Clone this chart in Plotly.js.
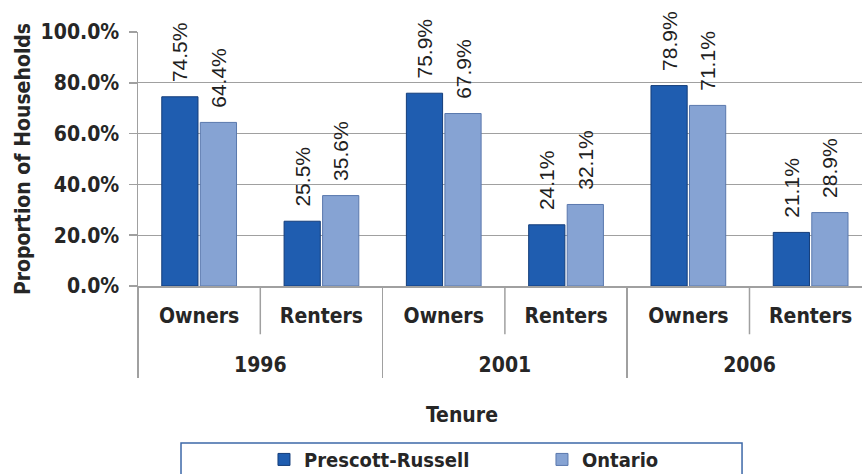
<!DOCTYPE html>
<html>
<head>
<meta charset="utf-8">
<script src="https://cdn.plot.ly/plotly-3.0.1.min.js"></script>
<style>html,body{margin:0;padding:0;background:#fff;overflow:hidden}#chart{width:862px;height:474px}</style>
</head>
<body>
<div id="chart"></div>
<script>
const years = ["1996", "1996", "2001", "2001", "2006", "2006"];
const tenure = ["Owners", "Renters", "Owners", "Renters", "Owners", "Renters"];
const prescottRussell = [0.745, 0.255, 0.759, 0.241, 0.789, 0.211];
const ontario = [0.644, 0.356, 0.679, 0.321, 0.711, 0.289];
const seriesNames = ["Prescott-Russell", "Ontario"];
const innerBoundaries = [0.5, 2.5, 4.5];

const labelFont = {family: "Liberation Sans, Arial, sans-serif", size: 21, color: "#1f1f1f"};
const axisFont = {family: "DejaVu Sans Condensed, DejaVu Sans, sans-serif", size: 21, color: "#262626", weight: "bold"};
const legendFont = {family: "DejaVu Sans Condensed, DejaVu Sans, sans-serif", size: 20, color: "#262626", weight: "bold"};
const gridGray = "#a0a0a0";

// inner level labels get an empty second line so the year level sits lower
const tenureLabels = tenure.map(t => t + "<br><span style='font-size:46px'>\u00a0</span>");

function barTrace(name, vals, color, lineColor) {
  return {
    type: "bar",
    name: name,
    x: [years, tenureLabels],
    y: vals,
    marker: {color: color, line: {color: lineColor, width: 1}},
    text: vals.map(v => (v * 100).toFixed(1) + "%"),
    texttemplate: "\u00a0\u00a0%{text}",
    textposition: "outside",
    textangle: -90,
    constraintext: "none",
    cliponaxis: false,
    outsidetextfont: labelFont,
    hoverinfo: "skip"
  };
}

const data = [
  barTrace(seriesNames[0], prescottRussell, "#1f5db0", "#143d7a"),
  barTrace(seriesNames[1], ontario, "#86a3d3", "#5a78ad")
];

const shapes = innerBoundaries.map(b => ({
  type: "line",
  xref: "x", yref: "paper",
  x0: b, x1: b,
  y0: 0, y1: -0.19,
  line: {color: gridGray, width: 1.5}
}));
shapes.push({
  type: "rect",
  xref: "paper", yref: "paper",
  x0: 0.0594, x1: 0.8343,
  y0: -0.618, y1: -0.76,
  line: {color: "#3d68a8", width: 1.5},
  fillcolor: "rgba(0,0,0,0)",
  layer: "below"
});

const layout = {
  width: 862,
  height: 474,
  margin: {l: 138, r: 0, t: 32, b: 188, autoexpand: false},
  paper_bgcolor: "#ffffff",
  plot_bgcolor: "#ffffff",
  barmode: "group",
  bargap: 0.37,
  bargroupgap: 0.06,
  showlegend: true,
  legend: {
    orientation: "h",
    x: 0.174,
    xanchor: "left",
    y: -0.606,
    yanchor: "top",
    font: legendFont,
    entrywidth: 233,
    entrywidthmode: "pixels",
    bgcolor: "rgba(0,0,0,0)",
    borderwidth: 0
  },
  xaxis: {
    type: "multicategory",
    automargin: false,
    range: [-0.5, 5.42],
    showline: true,
    linecolor: gridGray,
    linewidth: 1.5,
    ticks: "",
    ticklabelstandoff: 10,
    showdividers: true,
    dividercolor: gridGray,
    dividerwidth: 1.5,
    tickfont: axisFont,
    showgrid: false
  },
  yaxis: {
    automargin: false,
    range: [0, 1],
    dtick: 0.2,
    tickformat: ".1%",
    showline: true,
    linecolor: gridGray,
    linewidth: 1.5,
    ticks: "outside",
    ticklen: 8,
    tickcolor: gridGray,
    tickwidth: 1.5,
    gridcolor: gridGray,
    gridwidth: 1.3,
    ticklabelstandoff: 5,
    tickfont: axisFont,
    zeroline: false,
    title: {text: "Proportion of Households", font: axisFont, standoff: 4}
  },
  annotations: [{
    xref: "paper", yref: "paper",
    x: 0.4475, y: -0.508,
    xanchor: "center", yanchor: "middle",
    text: "Tenure",
    showarrow: false,
    font: axisFont
  }],
  shapes: shapes
};

Plotly.newPlot("chart", data, layout, {displayModeBar: false, staticPlot: true});
</script>
</body>
</html>
